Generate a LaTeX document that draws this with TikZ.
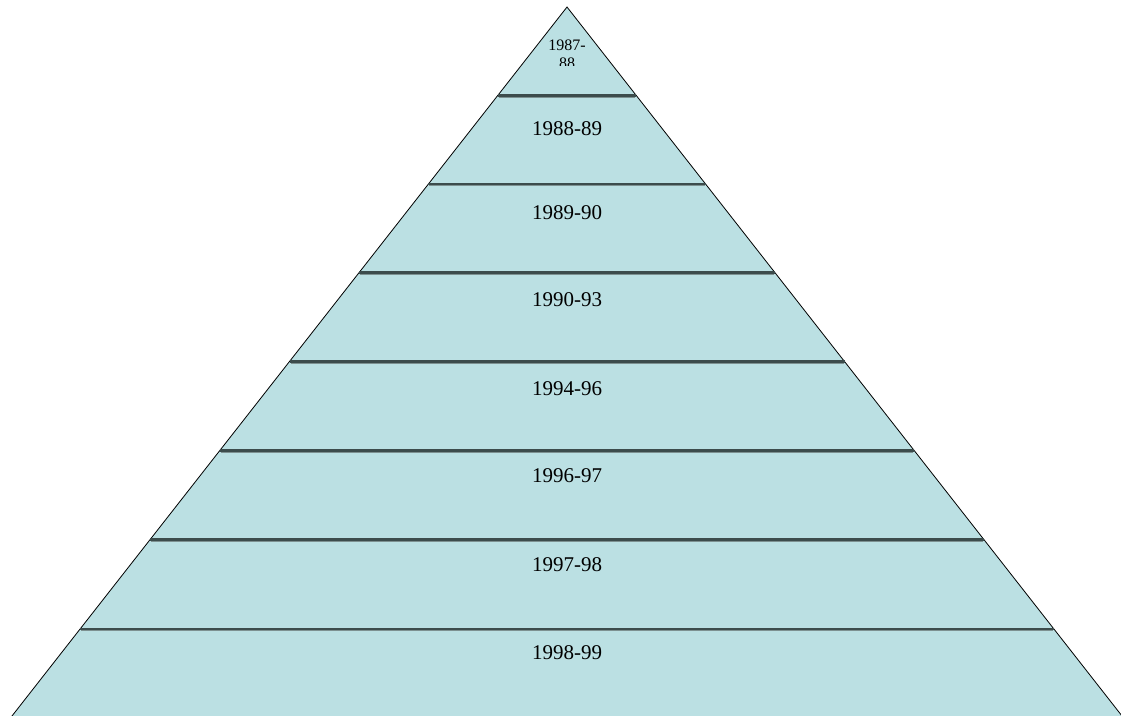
\documentclass[tikz,border=0pt]{standalone}
\usepackage{fontspec}
\setmainfont{Liberation Serif}
\usetikzlibrary{calc}
\definecolor{pyr_fill}{RGB}{187, 224, 227}
\definecolor{pyr_line}{RGB}{60, 76, 76}
\definecolor{pyr_shade}{RGB}{125, 145, 145}
\tikzset {
  pyramid/.style = {draw=black, fill=pyr_fill, line width=0.6pt},
  divider/.style = {draw=pyr_line, line width=1.6pt},
  dividershade/.style = {draw=pyr_shade, line width=0.9pt},
  yearlabel/.style = {inner sep=0pt, font=\fontsize{15.75}{18}\selectfont},
  toplabel/.style = {inner sep=0pt, align=center, font=\fontsize{12}{13.2}\selectfont}
}

\begin{document}
\begin{tikzpicture}[x=0.75pt, y=-0.75pt]
  \useasboundingbox (0,0) rectangle (1121,715);

  \coordinate (apex) at (567,7);
  \coordinate (baseL) at (11.2,717);
  \coordinate (baseR) at (1122.8,717);

  \draw[pyramid] (apex) -- (baseR) -- (baseL) -- cycle;

  % dividers between the layers
  \foreach \yy [count=\i] in {95.5, 184, 272.5, 361.5, 450.5, 539.5, 629} {
    \pgfmathsetmacro{\t}{(\yy-7)/710}
    \coordinate (L\i) at ($(apex)!\t!(baseL)$);
    \coordinate (R\i) at ($(apex)!\t!(baseR)$);
    \draw[dividershade] ($(L\i)+(1,1.6)$) -- ($(R\i)+(-1,1.6)$);
    \draw[divider] (L\i) -- (R\i);
  }

  % top layer, text cut off by its box
  \begin{scope}
    \clip (520,20) rectangle (615,65);
    \node[toplabel, anchor=north] (lbl0) at (567,40) {1987-\\88};
  \end{scope}

  \foreach \yy/\txt [count=\i] in {128.5/1988-89, 213/1989-90, 300/1990-93, 389/1994-96,
      476/1996-97, 565/1997-98, 653/1998-99} {
    \node[yearlabel] (lbl\i) at (567,\yy) {\txt};
  }

\end{tikzpicture}
\end{document}
